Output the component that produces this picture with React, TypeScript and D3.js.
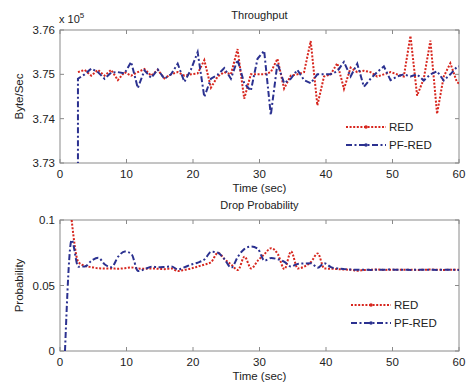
import * as d3 from "d3";

// ── Layout ────────────────────────────────────────────────
const W = 466;
const H = 387;
const X0 = 60;
const X1 = 459;
const TOP = { y0: 30, y1: 163 };
const BOT = { y0: 220, y1: 351 };
const FONT = "'Liberation Sans', Arial, Helvetica, sans-serif";
const RED = "#d7261e";
const BLUE = "#2b3190";
const AXIS = "#8a8a8a";

// ── Data ──────────────────────────────────────────────────
const xTicks = [0, 10, 20, 30, 40, 50, 60];
const thrTicks = [3.73, 3.74, 3.75, 3.76];
const dpTicks = [0, 0.05, 0.1];

// throughput, in units of 1e5 byte/sec
const thrTime = d3.range(2.7, 61, 1);
const redThr = [
  3.7505, 3.7510, 3.7497, 3.7510, 3.7497, 3.7510, 3.7487, 3.7505, 3.7497, 3.7505,
  3.7512, 3.7497, 3.7510, 3.7491, 3.7500, 3.7505, 3.7497, 3.7500, 3.7502, 3.7532,
  3.7470, 3.7495, 3.7505, 3.7500, 3.7557, 3.7445, 3.7500, 3.7500, 3.7500, 3.7505,
  3.7535, 3.7468, 3.7497, 3.7500, 3.7505, 3.7575, 3.7430, 3.7495, 3.7500, 3.7525,
  3.7467, 3.7515, 3.7505, 3.7508, 3.7505, 3.7495, 3.7500, 3.7505, 3.7500, 3.7495,
  3.7587, 3.7452, 3.7490, 3.7576, 3.7411, 3.7495, 3.7525, 3.7482, 3.7475,
];
const pfThrTime = [2.7, ...thrTime];
const pfThr = [
  3.7250,
  3.7490, 3.7500, 3.7513, 3.7505, 3.7490, 3.7504, 3.7505, 3.7502, 3.7528, 3.7469,
  3.7509, 3.7492, 3.7511, 3.7490, 3.7500, 3.7524, 3.7483, 3.7511, 3.7550, 3.7449,
  3.7490, 3.7499, 3.7514, 3.7490, 3.7533, 3.7480, 3.7463, 3.7535, 3.7553, 3.7408,
  3.7525, 3.7480, 3.7490, 3.7510, 3.7487, 3.7480, 3.7500, 3.7500, 3.7500, 3.7507,
  3.7528, 3.7495, 3.7524, 3.7472, 3.7490, 3.7505, 3.7518, 3.7487, 3.7495, 3.7500,
  3.7495, 3.7500, 3.7486, 3.7500, 3.7507, 3.7486, 3.7500, 3.7517, 3.7520,
];

// drop probability
const redDpTime = d3.range(1.75, 61, 1);
const redDp = [
  0.1000, 0.0680, 0.0650, 0.0640, 0.0632, 0.0630, 0.0630, 0.0628, 0.0632, 0.0638,
  0.0630, 0.0628, 0.0630, 0.0628, 0.0625, 0.0630, 0.0610, 0.0620, 0.0630, 0.0645,
  0.0660, 0.0680, 0.0750, 0.0700, 0.0660, 0.0618, 0.0720, 0.0630, 0.0690, 0.0740,
  0.0785, 0.0740, 0.0625, 0.0760, 0.0630, 0.0645, 0.0680, 0.0745, 0.0630, 0.0628,
  0.0625, 0.0622, 0.0620, 0.0613, 0.0618, 0.0620, 0.0622, 0.0619, 0.0621, 0.0620,
  0.0620, 0.0621, 0.0619, 0.0620, 0.0622, 0.0620, 0.0619, 0.0621, 0.0620, 0.0620,
];
const pfDpTime = d3.range(0.75, 61, 1);
const pfDp = [
  0.0000,
  0.0847, 0.0644, 0.0645, 0.0690, 0.0712, 0.0660, 0.0640, 0.0720, 0.0760, 0.0740,
  0.0610, 0.0625, 0.0644, 0.0640, 0.0642, 0.0645, 0.0622, 0.0640, 0.0660, 0.0675,
  0.0700, 0.0758, 0.0750, 0.0700, 0.0636, 0.0720, 0.0780, 0.0798, 0.0780, 0.0690,
  0.0710, 0.0700, 0.0680, 0.0645, 0.0665, 0.0668, 0.0670, 0.0636, 0.0670, 0.0640,
  0.0630, 0.0625, 0.0622, 0.0620, 0.0621, 0.0619, 0.0621, 0.0620, 0.0622, 0.0620,
  0.0621, 0.0619, 0.0620, 0.0621, 0.0620, 0.0619, 0.0620, 0.0620, 0.0619, 0.0619,
];

// ── Scales ────────────────────────────────────────────────
const x = d3.scaleLinear().domain([0, 60]).range([X0, X1]);
const yThr = d3.scaleLinear().domain([3.73, 3.76]).range([TOP.y1, TOP.y0]);
const yDp = d3.scaleLinear().domain([0, 0.1]).range([BOT.y1, BOT.y0]);

const RED_DASH = "2 1.6";
const BLUE_DASH = "6 2.5 2 2.5";

function pathFor(ts: number[], vs: number[], y: d3.ScaleLinear<number, number>, curve: d3.CurveFactory) {
  const pts = ts.map((t, i) => [t, vs[i]] as [number, number]);
  return d3.line<[number, number]>().x(d => x(d[0])).y(d => y(d[1])).curve(curve)(pts) || "";
}

function Panel(props: {
  id: string; y: d3.ScaleLinear<number, number>; box: { y0: number; y1: number };
  ticks: number[]; fmt: (v: number) => string; title: string; ylabel: string;
  red: string; blue: string; legendY: number; legendX: number;
}) {
  const { id, y, box, ticks, fmt, title, ylabel, red, blue, legendY, legendX } = props;
  const midY = (box.y0 + box.y1) / 2;
  const midX = (X0 + X1) / 2;
  const tl = 4;
  return (
    <g>
      <defs>
        <clipPath id={id}>
          <rect x={X0} y={box.y0} width={X1 - X0} height={box.y1 - box.y0} />
        </clipPath>
      </defs>
      <rect x={X0} y={box.y0} width={X1 - X0} height={box.y1 - box.y0} fill="#fff" stroke={AXIS} strokeWidth={1} />
      {xTicks.map(t => (
        <g key={t}>
          <line x1={x(t)} x2={x(t)} y1={box.y1} y2={box.y1 - tl} stroke={AXIS} />
          <line x1={x(t)} x2={x(t)} y1={box.y0} y2={box.y0 + tl} stroke={AXIS} />
          <text x={x(t)} y={box.y1 + 15} textAnchor="middle" fontSize={11.5} fill="#222">{t}</text>
        </g>
      ))}
      {ticks.map(v => (
        <g key={v}>
          <line x1={X0} x2={X0 + tl} y1={y(v)} y2={y(v)} stroke={AXIS} />
          <line x1={X1} x2={X1 - tl} y1={y(v)} y2={y(v)} stroke={AXIS} />
          <text x={X0 - 5} y={y(v) + 4} textAnchor="end" fontSize={11.5} fill="#222">{fmt(v)}</text>
        </g>
      ))}
      <g clipPath={`url(#${id})`}>
        <path d={red} fill="none" stroke={RED} strokeWidth={2} strokeDasharray={RED_DASH} />
        <path d={blue} fill="none" stroke={BLUE} strokeWidth={2} strokeDasharray={BLUE_DASH} />
      </g>
      <text x={midX} y={box.y0 - 11} textAnchor="middle" fontSize={11} fill="#222">{title}</text>
      <text x={midX} y={box.y1 + 29} textAnchor="middle" fontSize={11.5} fill="#222">Time (sec)</text>
      <text transform={`translate(23,${midY}) rotate(-90)`} textAnchor="middle" fontSize={11.5} fill="#222">{ylabel}</text>
      {/* legend */}
      {[{ name: "RED", c: RED, dash: RED_DASH }, { name: "PF-RED", c: BLUE, dash: BLUE_DASH }].map((l, i) => {
        const ly = legendY + i * 18;
        return (
          <g key={l.name}>
            <line x1={legendX} x2={legendX + 40} y1={ly} y2={ly} stroke={l.c} strokeWidth={2} strokeDasharray={l.dash} />
            <circle cx={legendX + 20} cy={ly} r={1.8} fill={l.c} />
            <text x={legendX + 43} y={ly + 4} fontSize={11.5} fill="#222">{l.name}</text>
          </g>
        );
      })}
    </g>
  );
}

export default function App() {
  const redThrPath = pathFor(thrTime, redThr, yThr, d3.curveLinear);
  const pfThrPath = pathFor(pfThrTime, pfThr, yThr, d3.curveLinear);
  const redDpPath = pathFor(redDpTime, redDp, yDp, d3.curveMonotoneX);
  const pfDpPath = pathFor(pfDpTime, pfDp, yDp, d3.curveMonotoneX);

  return (
    <div style={{ position: "fixed", left: 0, top: 0, width: W, height: H, background: "#fff" }}>
      <svg width={W} height={H} viewBox={`0 0 ${W} ${H}`} style={{ display: "block", fontFamily: FONT }}>
        <rect width={W} height={H} fill="#fff" />
        <Panel id="clipThr" y={yThr} box={TOP} ticks={thrTicks} fmt={v => v.toFixed(2)}
          title="Throughput" ylabel="Byte/Sec" red={redThrPath} blue={pfThrPath}
          legendY={127} legendX={346} />
        <Panel id="clipDp" y={yDp} box={BOT} ticks={dpTicks} fmt={v => String(v)}
          title="Drop Probability" ylabel="Probability" red={redDpPath} blue={pfDpPath}
          legendY={305} legendX={351} />
        {/* exponent label for the throughput axis */}
        <text x={59} y={23} fontSize={11} fill="#222" fontFamily={FONT}>
          x 10<tspan dy={-5} fontSize={8}>5</tspan>
        </text>
      </svg>
    </div>
  );
}
